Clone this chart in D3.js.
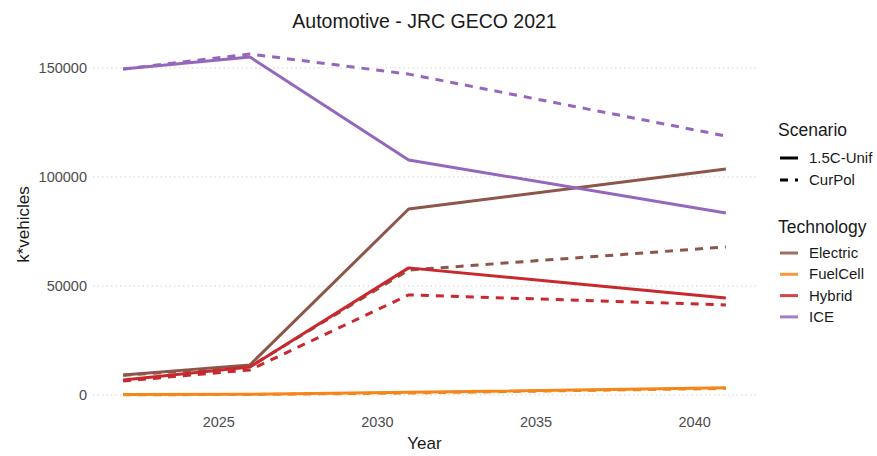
<!DOCTYPE html>
<html>
<head>
<meta charset="utf-8">
<script src="https://cdn.jsdelivr.net/npm/d3@7"></script>
<style>
  body { margin: 0; background: #fff; }
  svg { display: block; font-family: "Liberation Sans", Arial, sans-serif; }
</style>
</head>
<body>
<svg id="chart" width="877" height="456"></svg>
<script>
// Automotive stock projections (thousand vehicles), JRC GECO 2021
const years = [2022, 2026, 2031, 2041];
const technologies = ["Electric", "FuelCell", "Hybrid", "ICE"];
const scenarios = ["1.5C-Unif", "CurPol"];
const techColors = ["#8c564b", "#f5861a", "#c9282d", "#9467bd"];

const electric15 = [9200, 13800, 85300, 103700];
const electricCur = [9000, 13000, 57300, 67900];
const fuelcell15 = [200, 300, 1200, 3300];
const fuelcellCur = [100, 200, 900, 3000];
const hybrid15 = [6900, 12800, 58300, 44500];
const hybridCur = [6400, 11500, 45900, 41300];
const ice15 = [149500, 155000, 107800, 83500];
const iceCur = [149500, 156400, 147200, 118800];

const yTicks = [0, 50000, 100000, 150000];
const xTicks = [2025, 2030, 2035, 2040];

const series = [
  { tech: "Electric", scen: "CurPol", values: electricCur },
  { tech: "FuelCell", scen: "CurPol", values: fuelcellCur },
  { tech: "Hybrid", scen: "CurPol", values: hybridCur },
  { tech: "ICE", scen: "CurPol", values: iceCur },
  { tech: "Electric", scen: "1.5C-Unif", values: electric15 },
  { tech: "FuelCell", scen: "1.5C-Unif", values: fuelcell15 },
  { tech: "Hybrid", scen: "1.5C-Unif", values: hybrid15 },
  { tech: "ICE", scen: "1.5C-Unif", values: ice15 }
];

const svg = d3.select("#chart");
const panel = { left: 93, right: 756, top: 37, bottom: 412 };

const color = d3.scaleOrdinal().domain(technologies).range(techColors);
const dash = d3.scaleOrdinal().domain(scenarios).range(["none", "8,7"]);

// ggplot-style 5% expansion of the data range
const xExt = d3.extent(years);
const xPad = (xExt[1] - xExt[0]) * 0.05;
const x = d3.scaleLinear().domain([xExt[0] - xPad, xExt[1] + xPad]).range([panel.left, panel.right]);

const allVals = series.flatMap(s => s.values);
const yMin = 0, yMax = d3.max(allVals);
const yPad = (yMax - yMin) * 0.05;
const y = d3.scaleLinear().domain([yMin - yPad, yMax + yPad]).range([panel.bottom, panel.top]);

// horizontal dotted grid
svg.append("g")
  .selectAll("line")
  .data(yTicks)
  .join("line")
  .attr("x1", panel.left).attr("x2", panel.right)
  .attr("y1", d => y(d)).attr("y2", d => y(d))
  .attr("stroke", "#d4d4d4")
  .attr("stroke-width", 1)
  .attr("stroke-dasharray", "1.5,3");

// axes (text only, no domain lines)
const yAxis = svg.append("g")
  .attr("transform", `translate(${panel.left},0)`)
  .call(d3.axisLeft(y).tickValues(yTicks).tickFormat(d3.format("d")).tickSize(0).tickPadding(6));
yAxis.select(".domain").remove();
yAxis.selectAll("text").attr("fill", "#4d4d4d").attr("font-size", 14.5).attr("font-family", "Liberation Sans, Arial, sans-serif");

const xAxis = svg.append("g")
  .attr("transform", `translate(0,${panel.bottom})`)
  .call(d3.axisBottom(x).tickValues(xTicks).tickFormat(d3.format("d")).tickSize(0).tickPadding(5));
xAxis.select(".domain").remove();
xAxis.selectAll("text").attr("fill", "#4d4d4d").attr("font-size", 14.5).attr("font-family", "Liberation Sans, Arial, sans-serif");

// lines
const line = d3.line().x((d, i) => x(years[i])).y(d => y(d));
svg.append("g")
  .selectAll("path")
  .data(series)
  .join("path")
  .attr("d", d => line(d.values))
  .attr("fill", "none")
  .attr("stroke", d => color(d.tech))
  .attr("stroke-width", 3)
  .attr("stroke-dasharray", d => dash(d.scen))
  .attr("stroke-linejoin", "round");

// titles
svg.append("text")
  .attr("x", (panel.left + panel.right) / 2).attr("y", 28)
  .attr("text-anchor", "middle").attr("font-size", 19.5).attr("fill", "#1a1a1a")
  .text("Automotive - JRC GECO 2021");

svg.append("text")
  .attr("x", (panel.left + panel.right) / 2).attr("y", 449)
  .attr("text-anchor", "middle").attr("font-size", 17).attr("fill", "#1a1a1a")
  .text("Year");

svg.append("text")
  .attr("transform", `translate(29,${(panel.top + panel.bottom) / 2}) rotate(-90)`)
  .attr("text-anchor", "middle").attr("font-size", 17).attr("fill", "#1a1a1a")
  .text("k*vehicles");

// legends
const lg = svg.append("g").attr("transform", "translate(778,0)");
lg.append("text").attr("x", 0).attr("y", 136).attr("font-size", 17.5).attr("fill", "#1a1a1a").text("Scenario");
scenarios.forEach((s, i) => {
  const cy = 158 + i * 22;
  lg.append("line").attr("x1", 2).attr("x2", 20).attr("y1", cy).attr("y2", cy)
    .attr("stroke", "#000").attr("stroke-width", 3).attr("stroke-dasharray", dash(s) === "none" ? null : "8,7");
  lg.append("text").attr("x", 31).attr("y", cy + 5).attr("font-size", 15).attr("fill", "#1a1a1a").text(s);
});

lg.append("text").attr("x", 0).attr("y", 233).attr("font-size", 17.5).attr("fill", "#1a1a1a").text("Technology");
technologies.forEach((t, i) => {
  const cy = 253 + i * 21.3;
  lg.append("line").attr("x1", 2).attr("x2", 20).attr("y1", cy).attr("y2", cy)
    .attr("stroke", color(t)).attr("stroke-width", 3).attr("stroke-opacity", 0.85);
  lg.append("text").attr("x", 31).attr("y", cy + 5).attr("font-size", 15).attr("fill", "#1a1a1a").text(t);
});
</script>
</body>
</html>
